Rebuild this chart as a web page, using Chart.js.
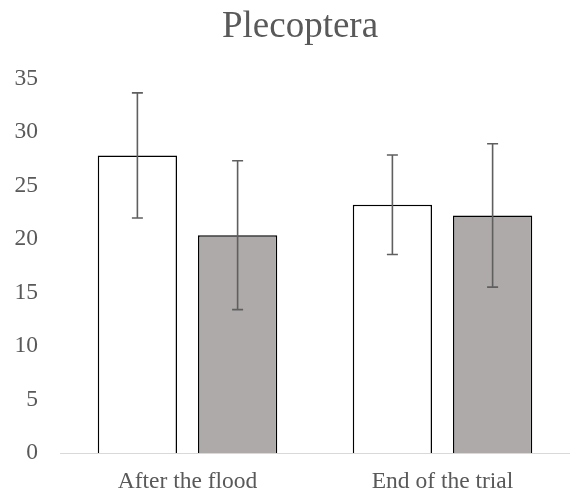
<!DOCTYPE html>
<html>
<head>
<meta charset="utf-8">
<script src="https://cdn.jsdelivr.net/npm/chart.js@4/dist/chart.umd.min.js"></script>
<style>
  html, body { margin: 0; padding: 0; background: #ffffff; }
  #wrap { width: 570px; height: 495px; position: relative; }
</style>
</head>
<body>
<div id="wrap"><canvas id="c"></canvas></div>
<script>
const categories = ['After the flood', 'End of the trial'];
const seriesNames = ['Series 1', 'Series 2'];
const series1 = [27.8, 23.2];
const series1Err = [5.85, 4.65];
const series2 = [20.35, 22.2];
const series2Err = [6.95, 6.7];
const yTicks = [0, 5, 10, 15, 20, 25, 30, 35];

const errors = [series1Err, series2Err];
const textColor = '#595959';
const serif = '"Liberation Serif", "Times New Roman", serif';

const errorBarPlugin = {
  id: 'errorBars',
  afterLayout(chart) {
    // shift the title box so it is centred like the original
    if (chart.titleBlock) { chart.titleBlock.left += 15; }
  },
  afterDatasetsDraw(chart) {
    const ctx = chart.ctx;
    const yScale = chart.scales.y;
    ctx.save();
    ctx.strokeStyle = '#5f5f5f';
    ctx.lineWidth = 1.6;
    chart.data.datasets.forEach((ds, i) => {
      const meta = chart.getDatasetMeta(i);
      meta.data.forEach((bar, j) => {
        const v = ds.data[j];
        const e = errors[i][j];
        const x = bar.x;
        const yTop = yScale.getPixelForValue(v + e);
        const yBot = yScale.getPixelForValue(v - e);
        const cap = 5.5;
        ctx.beginPath();
        ctx.moveTo(x, yTop); ctx.lineTo(x, yBot);
        ctx.moveTo(x - cap, yTop); ctx.lineTo(x + cap, yTop);
        ctx.moveTo(x - cap, yBot); ctx.lineTo(x + cap, yBot);
        ctx.stroke();
      });
    });
    ctx.restore();
  }
};

new Chart(document.getElementById('c'), {
  type: 'bar',
  data: {
    labels: categories,
    datasets: [
      {
        label: seriesNames[0],
        data: series1,
        backgroundColor: '#ffffff',
        borderColor: '#000000',
        borderWidth: 1.5,
        categoryPercentage: 0.786,
        barPercentage: 0.791
      },
      {
        label: seriesNames[1],
        data: series2,
        backgroundColor: '#AEAAAA',
        borderColor: '#000000',
        borderWidth: 1.5,
        categoryPercentage: 0.786,
        barPercentage: 0.791
      }
    ]
  },
  options: {
    responsive: true,
    maintainAspectRatio: false,
    animation: false,
    layout: { padding: { left: 15, right: 0, top: 0, bottom: 0 } },
    plugins: {
      legend: { display: false },
      tooltip: { enabled: false },
      title: {
        display: true,
        text: 'Plecoptera',
        color: textColor,
        font: { family: serif, size: 37, weight: 'normal' },
        padding: { top: 5, bottom: 29 }
      }
    },
    scales: {
      x: {
        z: 1,
        grid: { display: false, drawTicks: false },
        border: { display: true, color: '#D9D9D9', width: 1 },
        ticks: {
          color: textColor,
          padding: 15,
          font: { family: serif, size: 23.5 }
        },
        afterFit(scale) { scale.height = 42; }
      },
      y: {
        min: 0,
        max: 35,
        grid: { display: false, drawTicks: false },
        border: { display: false },
        afterBuildTicks(scale) { scale.ticks = yTicks.map(v => ({ value: v })); },
        ticks: {
          color: textColor,
          padding: 22,
          font: { family: serif, size: 23.5 }
        },
        afterFit(scale) { scale.width = 45; }
      }
    }
  },
  plugins: [errorBarPlugin]
});
</script>
</body>
</html>
